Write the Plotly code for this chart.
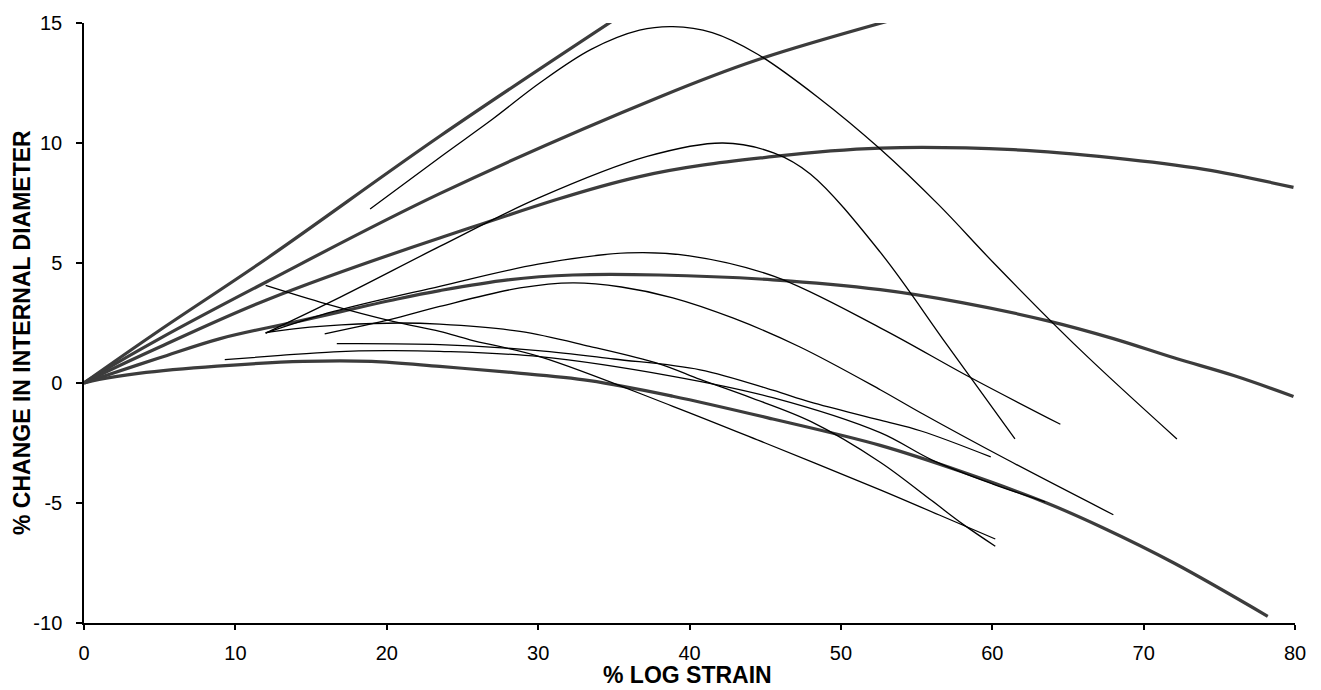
import plotly.graph_objects as go

# ---- thick grey curves, all starting from the origin ----
g1_x = [0, 1, 5, 12.1, 23.5, 35.3]
g1_y = [0, 0.45, 2.2, 5.2, 10.28, 15.25]

g2_x = [0, 1, 5, 12.1, 23.5, 38.1, 44.5, 53.8]
g2_y = [0, 0.4, 1.85, 4.23, 7.89, 11.94, 13.47, 15.2]

g3_x = [0, 1, 5, 12.1, 23.5, 36.7, 45.6, 52.6, 61.4, 68.0, 74.0, 79.9]
g3_y = [0, 0.32, 1.5, 3.47, 6.04, 8.6, 9.44, 9.79, 9.72, 9.38, 8.9, 8.15]

g4_x = [0, 1, 5, 9, 14.5, 20.7, 23.5, 28.0, 32.3, 38.0, 45.5, 52.6, 58.0, 63.6, 68.0, 72.0, 76.0, 79.9]
g4_y = [0, 0.22, 1.05, 1.85, 2.62, 3.5, 3.85, 4.3, 4.5, 4.5, 4.3, 3.89, 3.35, 2.6, 1.85, 1.05, 0.3, -0.56]

g5_x = [0, 1, 3.6, 8.8, 14.5, 19.0, 23.5, 28.0, 33.4, 38.9, 45.5, 52.6, 58.0, 63.6, 67.2, 72.0, 78.2]
g5_y = [0, 0.15, 0.4, 0.7, 0.9, 0.9, 0.69, 0.45, 0.1, -0.55, -1.5, -2.6, -3.7, -5.0, -6.0, -7.5, -9.72]

# ---- thin black curves with later starting points ----
t1_x = [18.9, 23.5, 27.0, 30.1, 33.5, 36.7, 38.9, 41.5, 44.5, 48.5, 52.6, 56.5, 60.1, 65.8, 72.2]
t1_y = [7.25, 9.4, 11.0, 12.5, 13.9, 14.7, 14.85, 14.6, 13.7, 11.9, 9.75, 7.4, 5.0, 1.39, -2.33]

t2_x = [12.0, 17.0, 23.5, 30.0, 37.2, 42.2, 45.6, 48.0, 52.6, 57.0, 61.5]
t2_y = [2.08, 3.6, 5.69, 7.7, 9.44, 10.0, 9.58, 8.7, 5.45, 1.6, -2.33]

t3_x = [12.0, 16.5, 23.5, 30.0, 35.9, 40.0, 45.6, 52.6, 58.5, 64.5]
t3_y = [2.08, 2.98, 4.03, 4.95, 5.42, 5.3, 4.44, 2.3, 0.25, -1.72]

t4_x = [15.9, 20.2, 23.5, 28.8, 32.3, 35.5, 38.9, 42.9, 47.3, 52.6, 55.3, 61.0, 68.0]
t4_y = [2.05, 2.64, 3.19, 3.96, 4.17, 4.0, 3.55, 2.7, 1.5, -0.28, -1.25, -3.2, -5.49]

t5_x = [12.0, 16.0, 20.4, 23.5, 25.5, 30.1, 38.9, 45.0, 52.6, 56.5, 60.2]
t5_y = [4.07, 3.3, 2.57, 2.15, 1.8, 1.1, -0.97, -2.5, -4.45, -5.5, -6.5]

t6_x = [9.3, 13.0, 16.5, 20.0, 23.5, 30.1, 38.9, 45.5, 52.6, 56.0, 60.0, 63.5]
t6_y = [0.97, 1.15, 1.3, 1.35, 1.32, 1.1, 0.28, -0.61, -2.07, -3.2, -4.2, -4.95]

t7_x = [16.7, 23.5, 30.0, 35.0, 40.7, 45.5, 48.0, 52.6, 55.3, 59.9]
t7_y = [1.64, 1.6, 1.35, 1.0, 0.55, -0.3, -0.8, -1.55, -2.0, -3.08]

t8_x = [12.0, 14.3, 17.0, 20.9, 23.5, 28.8, 33.4, 38.0, 40.7, 44.0, 48.0, 52.6, 56.0, 58.1, 60.2]
t8_y = [2.1, 2.29, 2.42, 2.5, 2.45, 2.15, 1.53, 0.8, 0.15, -0.6, -1.6, -3.3, -4.9, -5.9, -6.8]

x_ticks = [0, 10, 20, 30, 40, 50, 60, 70, 80]
y_ticks = [-10, -5, 0, 5, 10, 15]
y_tick_text = ["-10", "-5", "0", "5", "10", "15"]

thick = [(g1_x, g1_y), (g2_x, g2_y), (g3_x, g3_y), (g4_x, g4_y), (g5_x, g5_y)]
thin = [(t1_x, t1_y), (t2_x, t2_y), (t3_x, t3_y), (t4_x, t4_y),
        (t5_x, t5_y), (t6_x, t6_y), (t7_x, t7_y), (t8_x, t8_y)]

fig = go.Figure()
for xs, ys in thick:
    fig.add_trace(go.Scatter(x=xs, y=ys, mode="lines",
                             line=dict(color="#3c3c3c", width=3.2, shape="spline", smoothing=1),
                             showlegend=False, hoverinfo="skip"))
for xs, ys in thin:
    fig.add_trace(go.Scatter(x=xs, y=ys, mode="lines",
                             line=dict(color="#000000", width=1.3, shape="spline", smoothing=1),
                             showlegend=False, hoverinfo="skip"))

axis_font = dict(family="Liberation Sans, Arial, sans-serif", size=20, color="#000")
title_font = dict(family="Liberation Sans, Arial, sans-serif", size=23, color="#000")

fig.update_layout(
    width=1321, height=690, autosize=False,
    margin=dict(l=84, r=26, t=23, b=67),
    paper_bgcolor="white", plot_bgcolor="white",
    xaxis=dict(range=[0, 80], tickvals=x_ticks, ticks="outside", ticklen=5,
               tickcolor="#000", tickwidth=1.5, showline=True, linecolor="#000",
               linewidth=1.5, showgrid=False, zeroline=False, tickfont=axis_font,
               ticklabelstandoff=6),
    yaxis=dict(range=[-10, 15], tickvals=y_ticks, ticktext=y_tick_text,
               ticks="outside", ticklen=6,
               tickcolor="#000", tickwidth=1.5, showline=True, linecolor="#000",
               linewidth=1.5, showgrid=False, zeroline=False, tickfont=axis_font,
               ticklabelstandoff=10),
    annotations=[
        dict(text="<b>% LOG STRAIN</b>", xref="paper", yref="paper",
             x=0.498, y=-0.086, xanchor="center", yanchor="middle", showarrow=False,
             font=title_font),
        dict(text="<b>% CHANGE IN INTERNAL DIAMETER</b>", xref="paper", yref="paper",
             x=-0.0512, y=0.485, xanchor="center", yanchor="middle", showarrow=False,
             textangle=-90, font=title_font),
    ],
)

fig.write_html("out.html")
